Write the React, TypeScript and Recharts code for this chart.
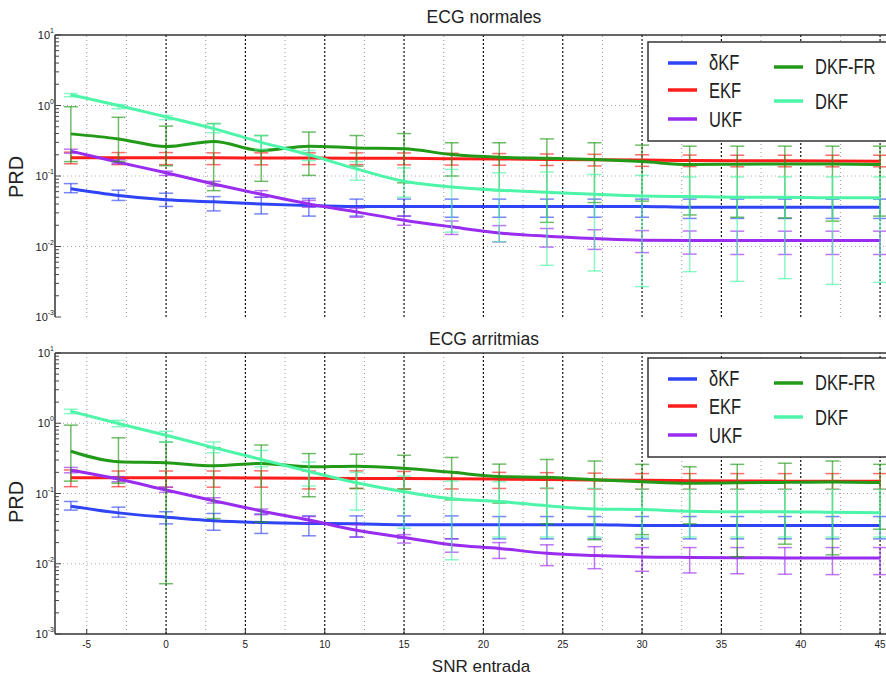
import { ErrorBar, Line, LineChart, ReferenceLine, XAxis, YAxis } from "recharts";

const FONT = '"Liberation Sans", Arial, Helvetica, sans-serif';

// SNR de entrada (dB)
const snr = [-6, -3, 0, 3, 6, 9, 12, 15, 18, 21, 24, 27, 30, 33, 36, 39, 42, 45];

// ECG normales
const nDeltaV = [0.066, 0.053, 0.046, 0.043, 0.040, 0.038, 0.037, 0.037, 0.037, 0.037, 0.037, 0.037, 0.037, 0.036, 0.036, 0.036, 0.036, 0.036];
const nDeltaLo = [0.058, 0.045, 0.037, 0.032, 0.029, 0.027, 0.027, 0.027, 0.026, 0.026, 0.026, 0.026, 0.026, 0.025, 0.025, 0.025, 0.025, 0.025];
const nDeltaHi = [0.078, 0.063, 0.057, 0.051, 0.050, 0.048, 0.047, 0.047, 0.047, 0.047, 0.047, 0.047, 0.047, 0.047, 0.047, 0.047, 0.047, 0.047];

const nEkfV = [0.181, 0.181, 0.181, 0.181, 0.180, 0.180, 0.179, 0.178, 0.176, 0.174, 0.172, 0.170, 0.168, 0.166, 0.165, 0.164, 0.163, 0.162];
const nEkfLo = [0.149, 0.145, 0.145, 0.145, 0.144, 0.145, 0.145, 0.144, 0.143, 0.142, 0.141, 0.139, 0.137, 0.136, 0.135, 0.135, 0.135, 0.135];
const nEkfHi = [0.218, 0.215, 0.215, 0.213, 0.213, 0.213, 0.213, 0.212, 0.210, 0.208, 0.205, 0.203, 0.200, 0.198, 0.197, 0.197, 0.197, 0.197];

const nUkfV = [0.225, 0.157, 0.111, 0.077, 0.055, 0.040, 0.031, 0.0236, 0.019, 0.0156, 0.014, 0.013, 0.0123, 0.0122, 0.0122, 0.0122, 0.0122, 0.0122];
const nUkfLo = [0.210, 0.149, 0.102, 0.072, 0.050, 0.036, 0.026, 0.020, 0.0148, 0.0116, 0.0098, 0.0091, 0.0082, 0.0078, 0.0077, 0.0077, 0.0077, 0.0077];
const nUkfHi = [0.240, 0.170, 0.117, 0.084, 0.062, 0.045, 0.035, 0.027, 0.023, 0.0198, 0.018, 0.0173, 0.0168, 0.0166, 0.0165, 0.0165, 0.0165, 0.0165];

const nFrV = [0.396, 0.336, 0.262, 0.309, 0.230, 0.265, 0.250, 0.243, 0.202, 0.185, 0.178, 0.171, 0.160, 0.145, 0.147, 0.148, 0.148, 0.145];
const nFrLo = [0.160, 0.160, 0.140, 0.062, 0.084, 0.102, 0.138, 0.080, 0.100, 0.062, 0.022, 0.042, 0.044, 0.028, 0.026, 0.0254, 0.0229, 0.027];
const nFrHi = [0.960, 0.680, 0.510, 0.555, 0.375, 0.420, 0.375, 0.400, 0.296, 0.296, 0.336, 0.296, 0.274, 0.265, 0.265, 0.265, 0.265, 0.265];

const nDkfV = [1.42, 1.00, 0.69, 0.47, 0.30, 0.20, 0.126, 0.084, 0.070, 0.063, 0.059, 0.055, 0.052, 0.051, 0.050, 0.050, 0.049, 0.049];
const nDkfLo = [1.33, 0.90, 0.63, 0.41, 0.238, 0.165, 0.087, 0.050, 0.016, 0.0117, 0.0054, 0.0045, 0.0027, 0.0044, 0.0032, 0.0035, 0.0029, 0.0031];
const nDkfHi = [1.48, 1.03, 0.72, 0.55, 0.375, 0.23, 0.16, 0.13, 0.124, 0.111, 0.114, 0.105, 0.102, 0.097, 0.097, 0.097, 0.097, 0.097];

// ECG arritmias
const aDeltaV = [0.066, 0.053, 0.046, 0.041, 0.0386, 0.0375, 0.037, 0.036, 0.036, 0.036, 0.036, 0.036, 0.035, 0.035, 0.035, 0.035, 0.035, 0.035];
const aDeltaLo = [0.058, 0.046, 0.037, 0.030, 0.027, 0.025, 0.024, 0.023, 0.0226, 0.0226, 0.0226, 0.0226, 0.0226, 0.0226, 0.0226, 0.0226, 0.0226, 0.0226];
const aDeltaHi = [0.077, 0.064, 0.055, 0.052, 0.051, 0.048, 0.048, 0.048, 0.048, 0.047, 0.047, 0.047, 0.047, 0.047, 0.047, 0.047, 0.047, 0.047];

const aEkfV = [0.168, 0.168, 0.167, 0.167, 0.166, 0.165, 0.164, 0.163, 0.162, 0.160, 0.158, 0.156, 0.154, 0.152, 0.151, 0.150, 0.150, 0.150];
const aEkfLo = [0.125, 0.125, 0.123, 0.123, 0.123, 0.116, 0.118, 0.116, 0.116, 0.118, 0.118, 0.116, 0.115, 0.115, 0.115, 0.115, 0.115, 0.115];
const aEkfHi = [0.216, 0.209, 0.209, 0.209, 0.210, 0.209, 0.210, 0.206, 0.204, 0.200, 0.198, 0.195, 0.192, 0.192, 0.192, 0.192, 0.192, 0.192];

const aUkfV = [0.215, 0.161, 0.112, 0.079, 0.0565, 0.042, 0.030, 0.0236, 0.0186, 0.0165, 0.0141, 0.0131, 0.0125, 0.0123, 0.0122, 0.0121, 0.0121, 0.0121];
const aUkfLo = [0.197, 0.147, 0.104, 0.073, 0.050, 0.038, 0.024, 0.0197, 0.0146, 0.0119, 0.0094, 0.0085, 0.0078, 0.0074, 0.0072, 0.0071, 0.0070, 0.0070];
const aUkfHi = [0.235, 0.174, 0.123, 0.087, 0.060, 0.047, 0.036, 0.026, 0.0227, 0.020, 0.0186, 0.0175, 0.017, 0.017, 0.017, 0.017, 0.017, 0.017];

const aFrV = [0.400, 0.283, 0.274, 0.248, 0.268, 0.240, 0.245, 0.228, 0.200, 0.175, 0.170, 0.157, 0.147, 0.140, 0.142, 0.144, 0.146, 0.143];
const aFrLo = [0.150, 0.140, 0.0052, 0.044, 0.039, 0.090, 0.118, 0.115, 0.081, 0.073, 0.037, 0.022, 0.026, 0.037, 0.0126, 0.019, 0.0134, 0.031];
const aFrHi = [0.940, 0.620, 0.540, 0.450, 0.490, 0.370, 0.363, 0.350, 0.326, 0.262, 0.305, 0.290, 0.260, 0.240, 0.260, 0.270, 0.290, 0.260];

const aDkfV = [1.48, 0.99, 0.675, 0.45, 0.305, 0.206, 0.142, 0.106, 0.084, 0.077, 0.067, 0.060, 0.059, 0.056, 0.055, 0.055, 0.054, 0.053];
const aDkfLo = [1.37, 0.89, 0.54, 0.38, 0.24, 0.128, 0.058, 0.032, 0.0114, 0.024, 0.024, 0.024, 0.024, 0.024, 0.024, 0.024, 0.024, 0.024];
const aDkfHi = [1.58, 1.10, 0.77, 0.54, 0.41, 0.28, 0.20, 0.177, 0.150, 0.147, 0.120, 0.118, 0.116, 0.115, 0.115, 0.115, 0.115, 0.115];

// ejes
const xTicks = [-5, 0, 5, 10, 15, 20, 25, 30, 35, 40, 45];
const xGridMajor = [0, 5, 10, 15, 20, 25, 30, 35, 40, 45];
const xGridMinor = [-5, -2.5, 2.5, 7.5, 12.5, 17.5, 22.5, 27.5, 32.5, 37.5, 42.5];
const decades = [0.001, 0.01, 0.1, 1, 10];
const yGrid = [0.01, 0.1, 1];
const yTicks: number[] = [];
decades.forEach((d) => {
  yTicks.push(d);
  if (d < 10) [2, 3, 4, 5, 6, 7, 8, 9].forEach((m) => yTicks.push(+(d * m).toPrecision(3)));
});

type Serie = { key: string; name: string; color: string; v: number[]; lo: number[]; hi: number[] };

const colors = {
  delta: "#2f45f5",
  ekf: "#ff1c1c",
  ukf: "#9a2cf0",
  fr: "#229a18",
  dkf: "#4cf5a8",
};

const normSeries: Serie[] = [
  { key: "delta", name: "δKF", color: colors.delta, v: nDeltaV, lo: nDeltaLo, hi: nDeltaHi },
  { key: "ekf", name: "EKF", color: colors.ekf, v: nEkfV, lo: nEkfLo, hi: nEkfHi },
  { key: "ukf", name: "UKF", color: colors.ukf, v: nUkfV, lo: nUkfLo, hi: nUkfHi },
  { key: "fr", name: "DKF-FR", color: colors.fr, v: nFrV, lo: nFrLo, hi: nFrHi },
  { key: "dkf", name: "DKF", color: colors.dkf, v: nDkfV, lo: nDkfLo, hi: nDkfHi },
];

const arrSeries: Serie[] = [
  { key: "delta", name: "δKF", color: colors.delta, v: aDeltaV, lo: aDeltaLo, hi: aDeltaHi },
  { key: "ekf", name: "EKF", color: colors.ekf, v: aEkfV, lo: aEkfLo, hi: aEkfHi },
  { key: "ukf", name: "UKF", color: colors.ukf, v: aUkfV, lo: aUkfLo, hi: aUkfHi },
  { key: "fr", name: "DKF-FR", color: colors.fr, v: aFrV, lo: aFrLo, hi: aFrHi },
  { key: "dkf", name: "DKF", color: colors.dkf, v: aDkfV, lo: aDkfLo, hi: aDkfHi },
];

function buildRows(series: Serie[]) {
  return snr.map((x, i) => {
    const row: Record<string, any> = { snr: x };
    series.forEach((s) => {
      row[s.key] = s.v[i];
      row[s.key + "Err"] = [s.v[i] - s.lo[i], s.hi[i] - s.v[i]];
    });
    return row;
  });
}

const LogTick = (props: any) => {
  const { x, y, payload } = props;
  const e = Math.log10(payload.value);
  const major = Math.abs(e - Math.round(e)) < 1e-6;
  const ax = x + 4;
  return (
    <g>
      <line x1={ax} x2={ax + (major ? 6 : 4)} y1={y} y2={y} stroke="#444" strokeWidth={1} />
      {major && (
        <text x={ax - 1} y={y} dy={4} textAnchor="end" fontSize={11} fill="#222" fontFamily={FONT}>
          10<tspan dy={-6} fontSize={7}>{Math.round(e)}</tspan>
        </text>
      )}
    </g>
  );
};

const XTick = (props: any) => {
  const { x, y, payload } = props;
  return (
    <g>
      <line x1={x} x2={x} y1={y - 6} y2={y - 11} stroke="#333" strokeWidth={1} />
      <text x={x} y={y} dy={8} textAnchor="middle" fontSize={10} fill="#222" fontFamily={FONT}>
        {payload.value}
      </text>
    </g>
  );
};

const Panel = ({ series, showX, height, top, bottom }: { series: Serie[]; showX: boolean; height: number; top: number; bottom: number }) => {
  const rows = buildRows(series);
  return (
    <LineChart width={900} height={height} data={rows} margin={{ top, right: 12, bottom, left: 5 }}>
      <XAxis
        dataKey="snr"
        type="number"
        domain={[-7, 45.5]}
        allowDataOverflow
        ticks={xTicks}
        interval={0}
        tick={showX ? <XTick /> : false}
        tickLine={false}
        tickSize={0}
        tickMargin={6}
        height={showX ? 20 : 0}
        axisLine={{ stroke: "#333", strokeWidth: 1.5 }}
      />
      <YAxis
        scale="log"
        domain={[0.001, 10]}
        allowDataOverflow
        ticks={yTicks}
        interval={0}
        tick={<LogTick />}
        tickLine={false}
        tickSize={0}
        tickMargin={4}
        width={50}
        axisLine={{ stroke: "#333", strokeWidth: 1.5 }}
      />
      {yGrid.map((v) => (
        <ReferenceLine key={"h" + v} y={v} stroke="#aaa" strokeDasharray="1 3" />
      ))}
      {xGridMinor.map((v) => (
        <ReferenceLine key={"m" + v} x={v} stroke="#999" strokeDasharray="1 3" />
      ))}
      {xGridMajor.map((v) => (
        <ReferenceLine key={"M" + v} x={v} stroke="#111" strokeWidth={1.2} strokeDasharray="2 2" />
      ))}
      <ReferenceLine y={10} stroke="#333" strokeWidth={1.5} />
      {series.map((s) => (
        <Line
          key={s.key}
          dataKey={s.key}
          type="monotone"
          stroke={s.color}
          strokeWidth={3}
          dot={false}
          isAnimationActive={false}
        >
          <ErrorBar dataKey={s.key + "Err"} width={7} stroke={s.color} strokeOpacity={0.65} strokeWidth={1.5} />
        </Line>
      ))}
    </LineChart>
  );
};

const LegendBox = ({ dy, series }: { dy: number; series: Serie[] }) => {
  const pos = [
    { lx: 668, ly: 63, ty: 70 },
    { lx: 668, ly: 90, ty: 98 },
    { lx: 668, ly: 119, ty: 127 },
    { lx: 774, ly: 67, ty: 74 },
    { lx: 774, ly: 101, ty: 109 },
  ];
  return (
    <g>
      <rect x={648} y={42 + dy} width={260} height={99} fill="#fff" stroke="#333" strokeWidth={1.5} />
      {series.map((s, i) => (
        <g key={s.key}>
          <line x1={pos[i].lx} x2={pos[i].lx + 29} y1={pos[i].ly + dy} y2={pos[i].ly + dy} stroke={s.color} strokeWidth={3.5} />
          <text
            transform={`translate(${pos[i].lx + 41},${pos[i].ty + dy}) scale(0.75,1)`}
            fontSize={22}
            fill="#222"
            fontFamily={FONT}
          >
            {s.name}
          </text>
        </g>
      ))}
    </g>
  );
};

export default function App() {
  return (
    <div style={{ position: "absolute", left: 0, top: 0, width: 886, height: 678, overflow: "hidden", background: "#fff" }}>
      <div style={{ position: "absolute", left: 0, top: 0 }}>
        <Panel series={normSeries} showX={false} height={330} top={35} bottom={13} />
      </div>
      <div style={{ position: "absolute", left: 0, top: 320 }}>
        <Panel series={arrSeries} showX={true} height={358} top={33} bottom={24} />
      </div>
      <svg width={886} height={678} style={{ position: "absolute", left: 0, top: 0, pointerEvents: "none" }}>
        <LegendBox dy={0} series={normSeries} />
        <LegendBox dy={316} series={arrSeries} />
        <text x={484} y={23} textAnchor="middle" fontSize={17.5} fill="#222" fontFamily={FONT}>ECG normales</text>
        <text x={484} y={345} textAnchor="middle" fontSize={17.5} fill="#222" fontFamily={FONT}>ECG arritmias</text>
        <text x={481} y={672} textAnchor="middle" fontSize={17} fill="#222" fontFamily={FONT}>SNR entrada</text>
        <text transform="translate(23,177) rotate(-90)" textAnchor="middle" fontSize={20} fill="#222" fontFamily={FONT}>PRD</text>
        <text transform="translate(23,502) rotate(-90)" textAnchor="middle" fontSize={20} fill="#222" fontFamily={FONT}>PRD</text>
      </svg>
    </div>
  );
}
